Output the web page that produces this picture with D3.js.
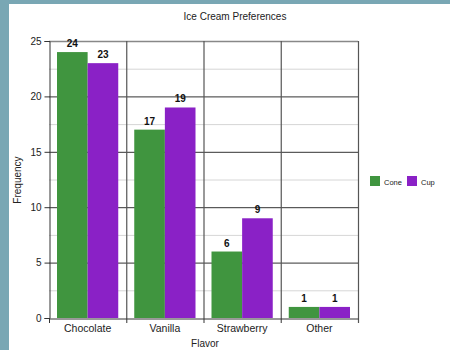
<!DOCTYPE html>
<html>
<head>
<meta charset="utf-8">
<script src="https://cdn.jsdelivr.net/npm/d3@7"></script>
<style>
  html, body { margin: 0; padding: 0; background: #79a7b4; }
  svg { display: block; font-family: "Liberation Sans", Arial, sans-serif; }
</style>
</head>
<body>
<svg id="chart" width="450" height="350"></svg>
<script>
// Ice cream preference counts by flavour and serving style
const flavors = ["Chocolate", "Vanilla", "Strawberry", "Other"];
const seriesNames = ["Cone", "Cup"];
const coneValues = [24, 17, 6, 1];
const cupValues = [23, 19, 9, 1];
const yTicks = [0, 5, 10, 15, 20, 25];
const colors = ["#40953f", "#8a21c6"];

const svg = d3.select("#chart");

// white panel
svg.append("rect").attr("x", 9).attr("y", 4).attr("width", 441).attr("height", 346).attr("fill", "#ffffff");

const plotLeft = 49, plotRight = 358, plotTop = 41, plotBottom = 318;

const x = d3.scaleBand().domain(flavors).range([plotLeft, plotRight]).paddingInner(0).paddingOuter(0);
const y = d3.scaleLinear().domain([0, 25]).range([plotBottom, plotTop]);
const xs = d3.scaleBand().domain(seriesNames).range([8, x.bandwidth() - 8]);

// minor gridlines
const minor = d3.range(2.5, 25, 5);
svg.append("g").selectAll("line").data(minor).join("line")
  .attr("x1", plotLeft).attr("x2", plotRight)
  .attr("y1", d => y(d) + 0.5).attr("y2", d => y(d) + 0.5)
  .attr("stroke", "#d6d6d6").attr("stroke-width", 1);

// major gridlines
svg.append("g").selectAll("line").data(yTicks.filter(d => d > 0 && d < 25)).join("line")
  .attr("x1", plotLeft).attr("x2", plotRight)
  .attr("y1", d => y(d) + 0.5).attr("y2", d => y(d) + 0.5)
  .attr("stroke", "#333").attr("stroke-width", 1);

// top border
svg.append("line").attr("x1", plotLeft).attr("x2", plotRight)
  .attr("y1", y(25) + 0.5).attr("y2", y(25) + 0.5)
  .attr("stroke", "#888").attr("stroke-width", 1.5);

// category separators
const seps = flavors.slice(1).map(f => x(f)).concat([plotRight]);
svg.append("g").selectAll("line").data(seps).join("line")
  .attr("x1", d => d + 0.5).attr("x2", d => d + 0.5)
  .attr("y1", plotTop).attr("y2", plotBottom + 5)
  .attr("stroke", "#555").attr("stroke-width", 1.2);

// bars
const rows = flavors.map((f, i) => ({ flavor: f, values: [coneValues[i], cupValues[i]] }));
const groups = svg.append("g").selectAll("g").data(rows).join("g")
  .attr("transform", d => `translate(${x(d.flavor)},0)`);

groups.selectAll("rect").data(d => d.values.map((v, j) => ({ name: seriesNames[j], v, j }))).join("rect")
  .attr("x", d => xs(d.name))
  .attr("width", xs.bandwidth())
  .attr("y", d => y(d.v))
  .attr("height", d => y(0) - y(d.v))
  .attr("fill", d => colors[d.j]);

groups.selectAll("text").data(d => d.values.map((v, j) => ({ name: seriesNames[j], v, j }))).join("text")
  .attr("x", d => xs(d.name) + xs.bandwidth() / 2)
  .attr("y", d => y(d.v) - 5)
  .attr("text-anchor", "middle")
  .attr("font-size", 10).attr("font-weight", "bold").attr("fill", "#111")
  .text(d => d.v);

// y axis
const yAxis = svg.append("g").attr("transform", `translate(${plotLeft + 0.5},0)`)
  .call(d3.axisLeft(y).tickValues(yTicks).tickSize(5).tickPadding(3));
yAxis.select(".domain").attr("stroke", "#333");
yAxis.selectAll(".tick line").attr("stroke", "#333");
yAxis.selectAll("text").attr("font-size", 10).attr("fill", "#222")
  .attr("font-family", "Liberation Sans, Arial, sans-serif");

// x axis
const xAxis = svg.append("g").attr("transform", `translate(0,${plotBottom + 0.5})`)
  .call(d3.axisBottom(x).tickSize(0).tickPadding(6));
xAxis.select(".domain").attr("stroke", "#333");
xAxis.selectAll("text").attr("font-size", 10.5).attr("fill", "#222")
  .attr("font-family", "Liberation Sans, Arial, sans-serif");
svg.append("line").attr("x1", plotLeft + 0.5).attr("x2", plotLeft + 0.5)
  .attr("y1", plotBottom).attr("y2", plotBottom + 5).attr("stroke", "#333");

// titles
svg.append("text").attr("x", 235).attr("y", 20).attr("text-anchor", "middle")
  .attr("font-size", 10).attr("fill", "#222").text("Ice Cream Preferences");
svg.append("text").attr("x", 205).attr("y", 347).attr("text-anchor", "middle")
  .attr("font-size", 10).attr("fill", "#222").text("Flavor");
svg.append("text").attr("transform", "translate(21,180) rotate(-90)").attr("text-anchor", "middle")
  .attr("font-size", 10).attr("fill", "#222").text("Frequency");

// legend
const legend = svg.append("g").attr("transform", "translate(370,176)");
const lx = [0, 37];
seriesNames.forEach((n, i) => {
  legend.append("rect").attr("x", lx[i]).attr("y", 0).attr("width", 10).attr("height", 10).attr("fill", colors[i]);
  legend.append("text").attr("x", lx[i] + 14).attr("y", 8.5).attr("font-size", 7.5).attr("fill", "#222").text(n);
});
</script>
</body>
</html>
